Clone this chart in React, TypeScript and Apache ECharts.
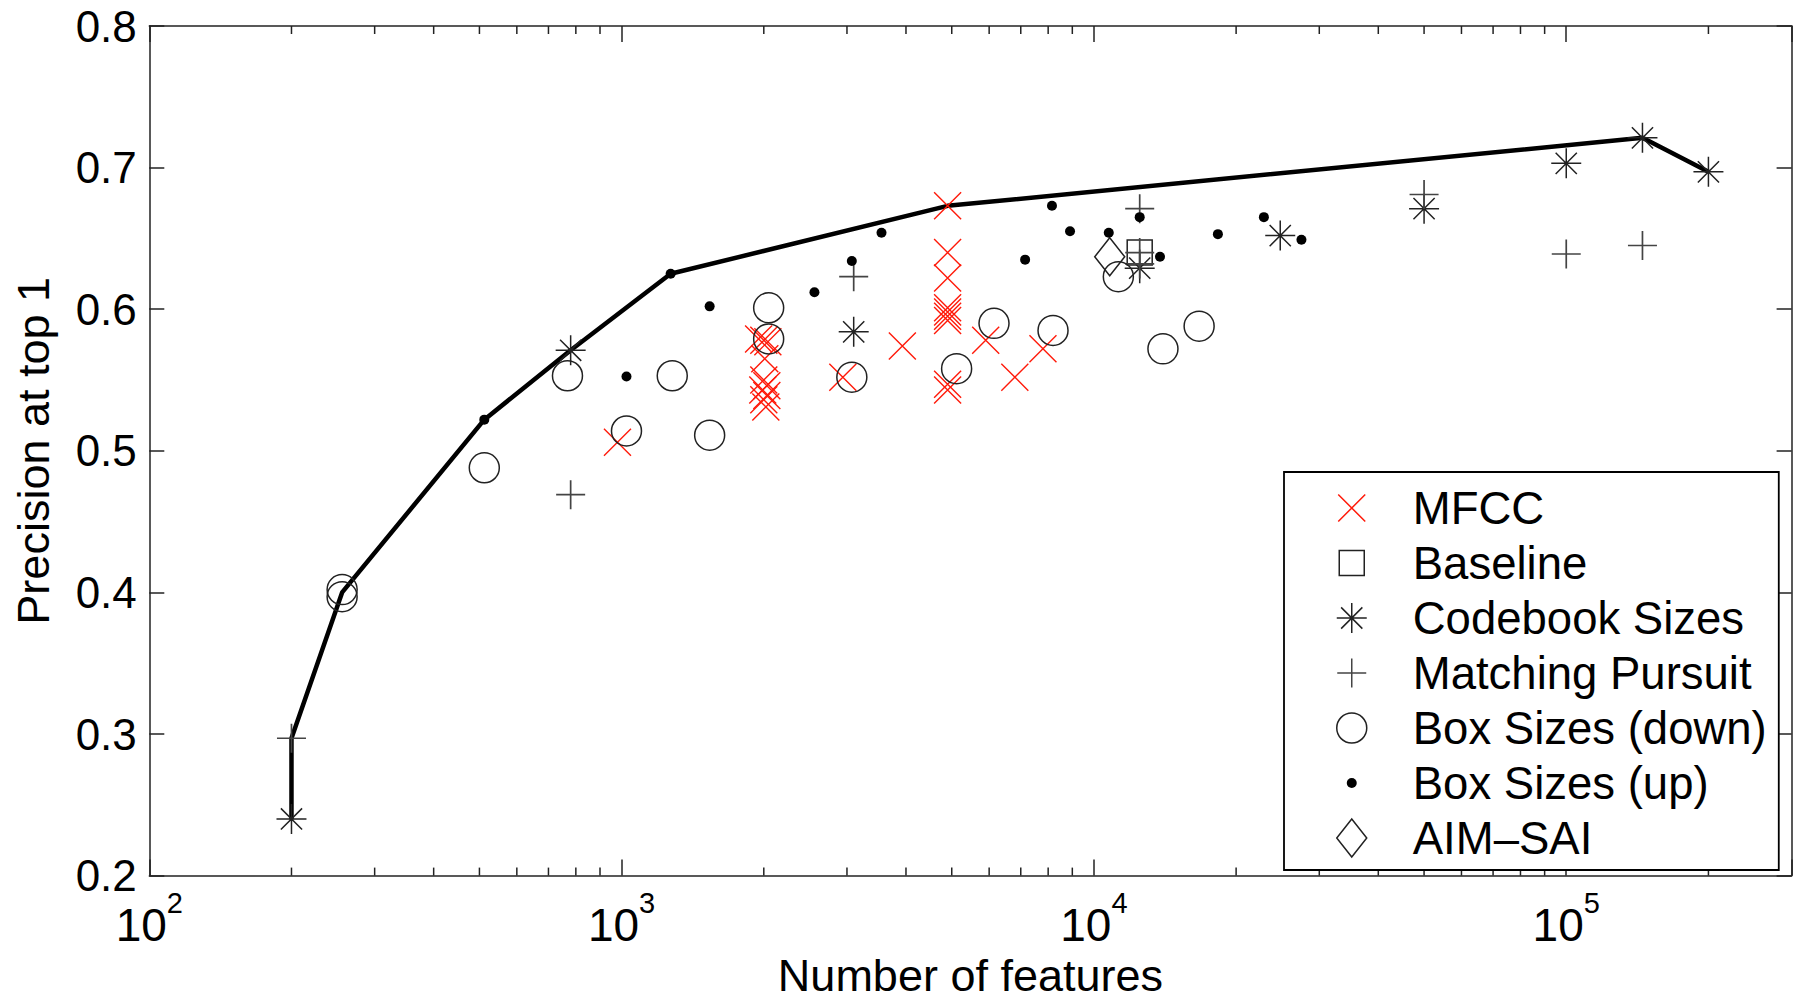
import React, { useEffect, useRef } from 'react';
import * as echarts from 'echarts';

// ---- axis settings ----
const X_MIN = 100;
const X_MAX = 300000;
const Y_MIN = 0.2;
const Y_MAX = 0.8;
const Y_STEP = 0.1;
const minorTicks = [
  200, 300, 400, 500, 600, 700, 800, 900,
  2000, 3000, 4000, 5000, 6000, 7000, 8000, 9000,
  20000, 30000, 40000, 50000, 60000, 70000, 80000, 90000,
  200000,
];

// ---- data (number of features, precision at top 1) ----
const mfcc = [
  [980, 0.506], [1950, 0.579], [2000, 0.578], [2040, 0.577], [2010, 0.565],
  [2000, 0.55], [2030, 0.546], [1990, 0.543], [2030, 0.539], [2000, 0.536],
  [2020, 0.531], [2940, 0.552], [3930, 0.574], [4900, 0.673], [4900, 0.64],
  [4900, 0.622], [4900, 0.601], [4900, 0.598], [4900, 0.595], [4900, 0.592],
  [4900, 0.547], [4900, 0.543], [5900, 0.578], [6800, 0.552], [7800, 0.572],
];
const baseline = [[12500, 0.64]];
const codebook = [
  [200, 0.24], [780, 0.571], [3100, 0.584], [12500, 0.629], [24800, 0.652],
  [50000, 0.671], [100000, 0.703], [145000, 0.721], [200000, 0.697],
];
const matchingPursuit = [
  [200, 0.297], [780, 0.469], [3100, 0.623], [12500, 0.671], [12500, 0.64],
  [12500, 0.632], [50000, 0.681], [100000, 0.639], [145000, 0.645],
];
const boxDown = [
  [256, 0.402], [256, 0.397], [512, 0.488], [768, 0.553], [1024, 0.514],
  [1280, 0.553], [1536, 0.511], [2048, 0.601], [2048, 0.579], [3072, 0.552],
  [5120, 0.558], [6144, 0.59], [8192, 0.585], [11264, 0.623], [14000, 0.572],
  [16700, 0.588],
];
const boxUp = [
  [512, 0.522], [1024, 0.5525], [1270, 0.625], [1536, 0.602], [2560, 0.612],
  [3072, 0.634], [3550, 0.654], [7150, 0.635], [8150, 0.673], [8900, 0.655],
  [10750, 0.654], [12500, 0.665], [13800, 0.637], [18300, 0.653], [22900, 0.665],
  [27500, 0.649],
];
const aimSai = [[10800, 0.637]];
const frontier = [
  [200, 0.24], [200, 0.297], [256, 0.4], [512, 0.522], [780, 0.571],
  [1270, 0.625], [4900, 0.673], [145000, 0.721], [200000, 0.697],
];

const seriesNames = [
  'MFCC', 'Baseline', 'Codebook Sizes', 'Matching Pursuit',
  'Box Sizes (down)', 'Box Sizes (up)', 'AIM\u2013SAI',
];

const FONT = "'Liberation Sans', Arial, Helvetica, sans-serif";

// symbols drawn in a 40x40 frame (zero-length corner segments fix the frame)
const FR = 'M0 0L0 0M40 40L40 40';
const SYM = {
  x: `path://${FR}M6.5 6.5L33.5 33.5M33.5 6.5L6.5 33.5`,
  square: `path://${FR}M7.5 7.5L32.5 7.5L32.5 32.5L7.5 32.5Z`,
  asterisk: `path://${FR}M20 5L20 35M5 20L35 20M9.4 9.4L30.6 30.6M30.6 9.4L9.4 30.6`,
  plus: `path://${FR}M20 5.5L20 34.5M5.5 20L34.5 20`,
  circle: `path://${FR}M35 20A15 15 0 1 1 5 20A15 15 0 1 1 35 20Z`,
  dot: `path://${FR}M25 20A5 5 0 1 1 15 20A5 5 0 1 1 25 20Z`,
  diamond: `path://${FR}M20 1L35 20L20 39L5 20Z`,
};

const NOFILL = 'rgba(0,0,0,0)';

function scatter(name: string, data: number[][], symbol: string, fill: string, stroke: string, lw: number, z: number) {
  return {
    type: 'scatter',
    name,
    data,
    symbol,
    symbolSize: 40,
    itemStyle: { color: fill, borderColor: stroke, borderWidth: lw, opacity: 1 },
    emphasis: { disabled: true },
    silent: true,
    z,
  };
}

export default function App() {
  const ref = useRef<HTMLDivElement>(null);

  useEffect(() => {
    if (!ref.current) return;
    const chart = echarts.init(ref.current, undefined, { renderer: 'svg' });

    const axisLineStyle = { color: '#222', width: 1.5 };
    const xLabelFmt = (v: number) => {
      const k = Math.log10(v);
      if (Math.abs(k - Math.round(k)) < 1e-6) return `{b|10}{s|${Math.round(k)}}`;
      return '';
    };

    const option: any = {
      animation: false,
      backgroundColor: '#fff',
      grid: { left: 149.3, right: 4.4, top: 26, bottom: 120.3, containLabel: false },
      xAxis: [
        {
          type: 'log', logBase: 10, min: X_MIN, max: X_MAX, position: 'bottom',
          axisLine: { show: true, lineStyle: axisLineStyle },
          axisTick: { show: true, inside: true, length: 16, lineStyle: axisLineStyle },
          splitLine: { show: false },
          minorTick: { show: false },
          axisLabel: {
            margin: 12.5,
            formatter: xLabelFmt,
            rich: {
              b: { fontFamily: FONT, fontSize: 46, lineHeight: 60, verticalAlign: 'bottom', color: '#000' },
              s: { fontFamily: FONT, fontSize: 29, lineHeight: 30, verticalAlign: 'top', color: '#000' },
            },
          },
          name: 'Number of features',
          nameLocation: 'middle',
          nameGap: 74.5,
          nameTextStyle: { fontFamily: FONT, fontSize: 45, color: '#000' },
        },
        {
          type: 'log', logBase: 10, min: X_MIN, max: X_MAX, position: 'top',
          axisLine: { show: true, lineStyle: axisLineStyle },
          axisTick: { show: true, inside: true, length: 16, lineStyle: axisLineStyle },
          splitLine: { show: false },
          axisLabel: { show: false },
        },
      ],
      yAxis: [
        {
          type: 'value', min: Y_MIN, max: Y_MAX, interval: Y_STEP, position: 'left',
          axisLine: { show: true, lineStyle: axisLineStyle },
          axisTick: { show: true, inside: true, length: 15, lineStyle: axisLineStyle },
          splitLine: { show: false },
          axisLabel: {
            margin: 12.5,
            formatter: (v: number) => v.toFixed(1),
            fontFamily: FONT, fontSize: 44, color: '#000',
          },
          name: 'Precision at top 1',
          nameLocation: 'middle',
          nameGap: 93,
          nameTextStyle: { fontFamily: FONT, fontSize: 45, color: '#000' },
        },
        {
          type: 'value', min: Y_MIN, max: Y_MAX, interval: Y_STEP, position: 'right',
          axisLine: { show: true, lineStyle: axisLineStyle },
          axisTick: { show: true, inside: true, length: 15, lineStyle: axisLineStyle },
          splitLine: { show: false },
          axisLabel: { show: false },
        },
      ],
      legend: {
        orient: 'vertical',
        left: 1284,
        top: 472,
        padding: [13, 12, 9, 47],
        itemWidth: 112,
        itemHeight: 40,
        itemGap: 9,
        borderColor: '#000',
        borderWidth: 1.8,
        backgroundColor: '#fff',
        selectedMode: false,
        textStyle: { fontFamily: FONT, fontSize: 45.5, color: '#000', lineHeight: 40 },
        itemStyle: { borderWidth: 1.5 },
        data: seriesNames.map((n, i) => (i === 5 ? { name: n, itemStyle: { borderWidth: 0 } } : { name: n })),
        z: 20,
      },
      series: [
        {
          type: 'custom',
          name: 'minor ticks',
          silent: true,
          z: 1,
          data: minorTicks.map((v) => [v, Y_MIN]),
          renderItem: (params: any, api: any) => {
            const x = api.value(0);
            const b = api.coord([x, Y_MIN]);
            const t = api.coord([x, Y_MAX]);
            const st = { stroke: '#222', lineWidth: 1.5 };
            return {
              type: 'group',
              children: [
                { type: 'line', shape: { x1: b[0], y1: b[1], x2: b[0], y2: b[1] - 8 }, style: st },
                { type: 'line', shape: { x1: t[0], y1: t[1], x2: t[0], y2: t[1] + 8 }, style: st },
              ],
            };
          },
        },
        {
          type: 'line',
          name: 'frontier',
          data: frontier,
          symbol: 'none',
          lineStyle: { color: '#000', width: 4.5 },
          silent: true,
          z: 2,
        },
        scatter(seriesNames[0], mfcc, SYM.x, NOFILL, '#ff1a0a', 1.4, 3),
        scatter(seriesNames[1], baseline, SYM.square, NOFILL, '#222', 1.5, 4),
        scatter(seriesNames[2], codebook, SYM.asterisk, NOFILL, '#222', 1.5, 4),
        scatter(seriesNames[3], matchingPursuit, SYM.plus, NOFILL, '#444', 1.7, 4),
        scatter(seriesNames[4], boxDown, SYM.circle, NOFILL, '#222', 1.5, 4),
        scatter(seriesNames[5], boxUp, SYM.dot, '#000', '#000', 0, 5),
        scatter(seriesNames[6], aimSai, SYM.diamond, NOFILL, '#222', 1.5, 4),
      ],
    };

    chart.setOption(option);
    return () => chart.dispose();
  }, []);

  return (
    <div
      ref={ref}
      style={{ position: 'fixed', left: 0, top: 0, width: 1796, height: 1003, background: '#fff' }}
    />
  );
}
